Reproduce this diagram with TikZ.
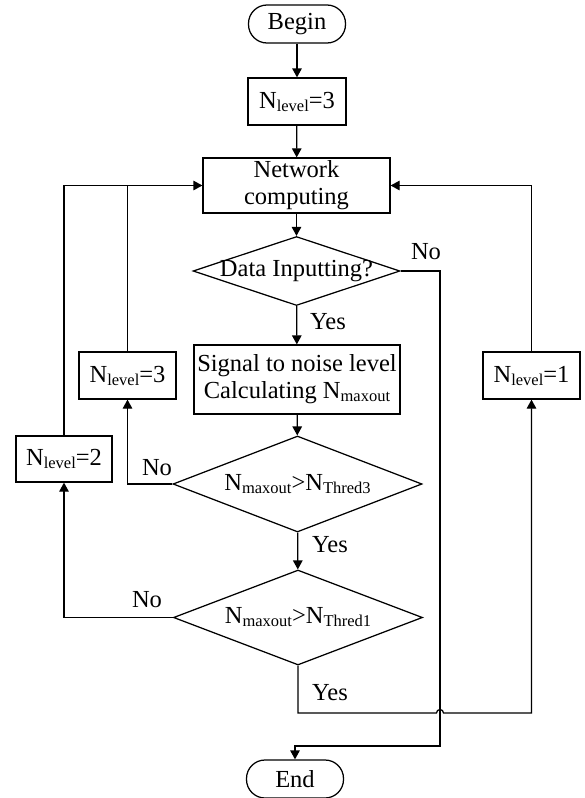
\documentclass[tikz,border=0pt]{standalone}
\usepackage{fontspec}
\setmainfont{Liberation Serif}
\usetikzlibrary{shapes.geometric,arrows.meta}

% lowered small subscript used in the labels
\newcommand{\sbs}[1]{\raisebox{-3pt}{\fontsize{16.5pt}{16.5pt}\selectfont #1}}

\begin{document}
\begin{tikzpicture}[x=1pt,y=-1pt,line width=1.25pt,
  every node/.style={font=\fontsize{24.5pt}{27pt}\selectfont, inner sep=0pt},
  term/.style={draw, rectangle, rounded corners=18.5pt, minimum width=97pt, minimum height=38pt},
  proc/.style={draw, rectangle, align=center},
  dec/.style={draw, diamond, aspect=3},
  flow/.style={-{Triangle[length=9pt,width=9.5pt]}},
  wire/.style={},
]
\useasboundingbox (0,0) rectangle (585,798);

% blocks
\node[term] (begin) at (297,24) {Begin};
\node[proc, minimum width=98pt, minimum height=47pt] (lv0) at (297,101.5) {N\sbs{level}=3};
\node[proc, minimum width=187pt, minimum height=55pt] (net) at (296.5,185.5) {Network\\computing};
\node[dec, minimum width=207pt, minimum height=69pt] (d1) at (296.5,271) {\makebox[0pt]{Data Inputting?}};
\node[proc, minimum width=206pt, minimum height=69pt] (sig) at (297,379.5) {Signal to noise level\\Calculating N\sbs{maxout}};
\node[dec, minimum width=249pt, minimum height=96pt] (d2) at (297.5,484) {\makebox[0pt]{N\sbs{maxout}>N\sbs{Thred3}}};
\node[dec, minimum width=249pt, minimum height=95pt] (d3) at (298,617.5) {\makebox[0pt]{N\sbs{maxout}>N\sbs{Thred1}}};
\node[proc, minimum width=97pt, minimum height=47pt] (lv3) at (127.5,375.5) {N\sbs{level}=3};
\node[proc, minimum width=96pt, minimum height=46pt] (lv2) at (64,459) {N\sbs{level}=2};
\node[proc, minimum width=97pt, minimum height=47pt] (lv1) at (531.5,375.5) {N\sbs{level}=1};
\node[term] (end) at (295,779) {End};

% routing points
\coordinate (skip) at (440,746);
\coordinate (hop) at (440,713);

% main flow
\draw[flow] (begin) -- (lv0);
\draw[flow] (lv0) -- (net);
\draw[flow] (net) -- (d1);
\draw[flow] (d1) -- (sig);
\draw[flow] (sig) -- (d2);
\draw[flow] (d2) -- (d3);

% branches
\draw[flow] (d1.east) -| (skip) -| (end.north);
\draw[flow] (d2.west) -| (lv3.south);
\draw[flow] (d3.west) -| (lv2.south);
\draw[flow] (d3.south) -- (d3.south |- hop) -- ([xshift=-3.5pt]hop)
  arc[start angle=180, end angle=0, radius=3.5pt] -- (lv1.south |- hop) -- (lv1.south);

% feedback to network computing
\draw[wire] (lv3.north) -- (lv3.north |- net.west);
\draw[flow] (lv2.north) |- (net.west);
\draw[flow] (lv1.north) |- (net.east);

% branch labels
\node at (328,322) {Yes};
\node at (330,545) {Yes};
\node at (330,693) {Yes};
\node at (426,252) {No};
\node at (157,468) {No};
\node at (147,600) {No};
\end{tikzpicture}
\end{document}
